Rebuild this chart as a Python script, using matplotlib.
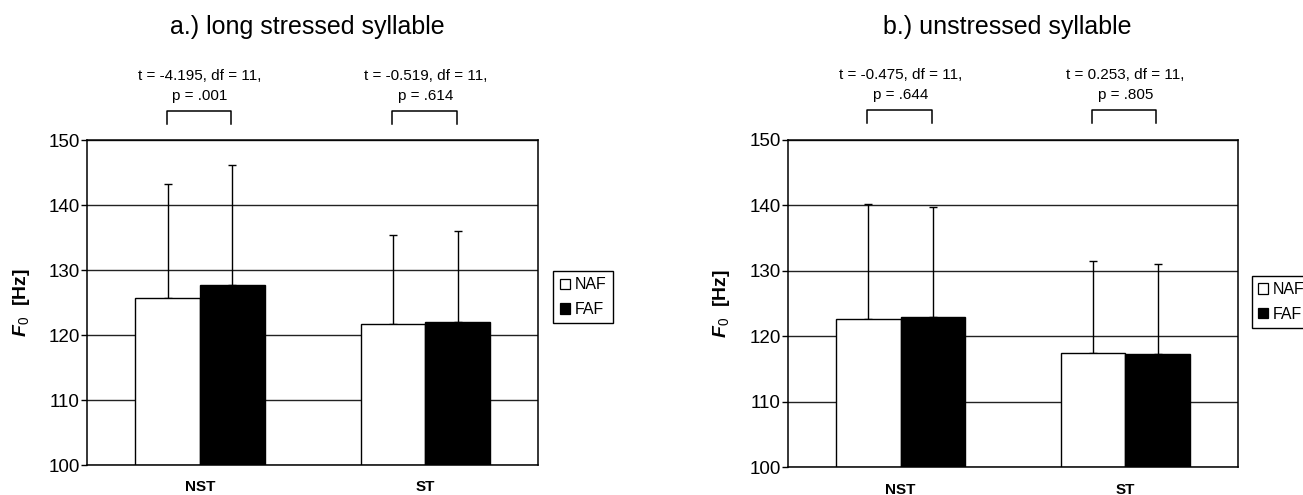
import matplotlib
matplotlib.use("Agg")
import matplotlib.pyplot as plt
from matplotlib.patches import Patch
import numpy as np

plt.rcParams['font.family'] = ['Liberation Sans', 'DejaVu Sans']
plt.rcParams['mathtext.fontset'] = 'custom'
plt.rcParams['mathtext.rm'] = 'Liberation Sans'
plt.rcParams['mathtext.it'] = 'Liberation Sans:italic'
plt.rcParams['mathtext.bf'] = 'Liberation Sans:bold'
plt.rcParams['mathtext.bfit'] = 'Liberation Sans:italic:bold'

categories = ["NST", "ST"]
series = ["NAF", "FAF"]

# panel a: long stressed syllable
a_naf = [125.7, 121.8]
a_faf = [127.7, 122.1]
a_naf_err = [17.6, 13.6]
a_faf_err = [18.5, 13.9]
a_stats = [("t = -4.195, df = 11,", "p = .001"), ("t = -0.519, df = 11,", "p = .614")]

# panel b: unstressed syllable
b_naf = [122.7, 117.4]
b_faf = [122.9, 117.25]
b_naf_err = [17.45, 14.15]
b_faf_err = [16.9, 13.85]
b_stats = [("t = -0.475, df = 11,", "p = .644"), ("t = 0.253, df = 11,", "p = .805")]

titles = ["a.) long stressed syllable", "b.) unstressed syllable"]
yticks = [100, 110, 120, 130, 140, 150]

fig = plt.figure(figsize=(13.03, 4.95), dpi=100)
ax1 = fig.add_axes([0.0670, 0.0606, 0.3459, 0.6556])
ax2 = fig.add_axes([0.6050, 0.0560, 0.3449, 0.6612])

W = 0.287

def panel(ax, naf, faf, naf_err, faf_err, stats, labelx):
    x = np.arange(len(categories))
    ax.set_axisbelow(True)
    ax.yaxis.grid(True, color='#222222', lw=1.0)
    ax.bar(x - W/2, [v - 100 for v in naf], W, bottom=100, color='white', edgecolor='black', lw=1, zorder=2)
    ax.bar(x + W/2, [v - 100 for v in faf], W, bottom=100, color='black', edgecolor='black', lw=1, zorder=2)
    ax.errorbar(x - W/2, naf, yerr=[np.zeros(len(naf)), naf_err], fmt='none', ecolor='black', elinewidth=1, capsize=3.2, capthick=1, zorder=1.5)
    ax.errorbar(x + W/2, faf, yerr=[np.zeros(len(faf)), faf_err], fmt='none', ecolor='black', elinewidth=1, capsize=3.2, capthick=1, zorder=1.5)
    ax.set_xlim(-0.5, 1.5)
    ax.set_ylim(100, 150)
    ax.set_yticks(yticks)
    ax.set_xticks(x)
    ax.set_xticklabels(categories, fontweight='bold', fontsize=11)
    ax.tick_params(axis='x', length=0, pad=11)
    ax.tick_params(axis='y', length=4, width=1, labelsize=13.5, pad=1.5)
    for s in ax.spines.values():
        s.set_color('black'); s.set_linewidth(1.1)
    for i, (l1, l2) in enumerate(stats):
        xa, xb = x[i] - W/2 - 0.005, x[i] + W/2 - 0.005
        ax.plot([xa, xa, xb, xb], [152.6, 154.6, 154.6, 152.6], color='black', lw=1.1, clip_on=False)
        ax.text(x[i], 159.9, l1, ha='center', va='center', fontsize=11)
        ax.text(x[i], 156.9, l2, ha='center', va='center', fontsize=11)
    ax.set_ylabel(r'$\mathbfit{F}_{\mathit{0}}$  [Hz]', fontsize=14, fontweight='bold')
    ax.yaxis.set_label_coords(labelx, 0.5)

panel(ax1, a_naf, a_faf, a_naf_err, a_faf_err, a_stats, -0.1227)
panel(ax2, b_naf, b_faf, b_naf_err, b_faf_err, b_stats, -0.126)

fig.text(0.2360, 0.9455, titles[0], ha='center', va='center', fontsize=18)
fig.text(0.7734, 0.9455, titles[1], ha='center', va='center', fontsize=18)

handles = [Patch(facecolor='white', edgecolor='black', lw=0.9), Patch(facecolor='black', edgecolor='black', lw=0.9)]
for bx, by in [(0.4246, 0.4525), (0.9606, 0.4430)]:
    leg = fig.legend(handles, series, loc='upper left', bbox_to_anchor=(bx, by), fontsize=11.5,
                     frameon=True, fancybox=False, edgecolor='black', framealpha=1,
                     handlelength=0.63, handleheight=0.63, handletextpad=0.3, labelspacing=0.6,
                     borderpad=0.4, borderaxespad=0)
    leg.get_frame().set_linewidth(1)

fig.savefig("out.png", dpi=100)
